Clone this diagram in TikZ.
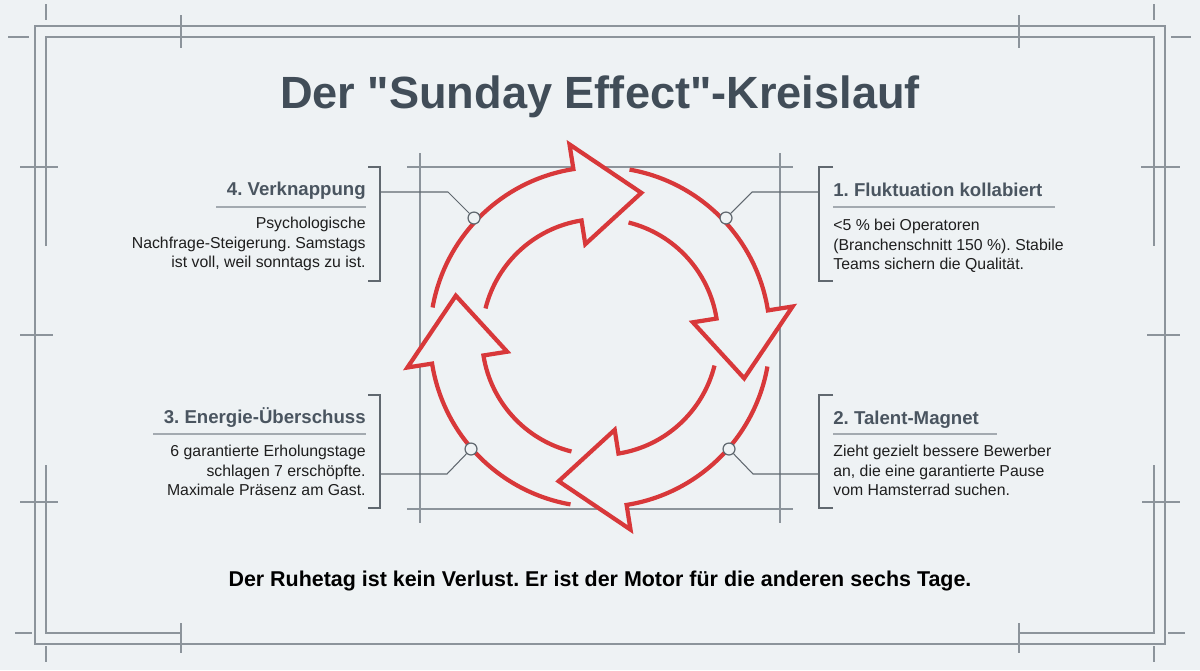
\documentclass[tikz,border=0pt]{standalone}
\usepackage{fontspec}
\setmainfont{Liberation Sans}
\newfontfamily\titlefont{Liberation Sans}
\usepackage{tikz}
\frenchspacing
\definecolor{paper}{HTML}{EEF2F4}
\definecolor{framegray}{HTML}{8C949B}
\definecolor{linegray}{HTML}{60686F}
\definecolor{rulegray}{HTML}{A3AAB0}
\definecolor{headgray}{HTML}{4A5560}
\definecolor{titlegray}{HTML}{414D58}
\definecolor{cyclered}{HTML}{D8383A}
\definecolor{bodyblack}{HTML}{1E1E1E}

\begin{document}
\begin{tikzpicture}[x=0.02cm,y=-0.02cm,inner sep=0pt,
  frame/.style={draw=framegray,line width=0.8pt},
  grid/.style={draw=framegray,line width=0.6pt},
  cyc/.style={draw=cyclered,line width=2.4pt,line join=miter},
  headfill/.style={fill=paper},
  bracket/.style={draw=linegray,line width=0.8pt},
  conn/.style={draw=linegray,line width=0.6pt},
  rule/.style={draw=rulegray,line width=0.8pt},
  dot/.style={circle,draw=linegray,fill=paper,line width=0.7pt,minimum size=6.8pt},
  headtext/.style={text=headgray,font=\bfseries\fontsize{10.6}{13}\selectfont},
  bodytext/.style={text=bodyblack,font=\fontsize{9}{11}\selectfont}]
%Background
\fill [paper] (0,0) rectangle (1200,670);
%Frame
\draw [frame] (35,26) rectangle (1165,644);
\draw [frame] (46,246) -- (46,37) -- (1154,37) -- (1154,246);
\draw [frame] (46,465) -- (46,633) -- (181,633);
\draw [frame] (1154,465) -- (1154,633) -- (1019,633);
%Frame Ticks
\draw [frame] (46,4) -- (46,20);
\draw [frame] (8,37) -- (29,37);
\draw [frame] (181,15) -- (181,48);
\draw [frame] (1019,15) -- (1019,48);
\draw [frame] (1154,4) -- (1154,20);
\draw [frame] (1171,37) -- (1191,37);
\draw [frame] (20,167) -- (58,167);
\draw [frame] (20,335) -- (53,335);
\draw [frame] (20,502) -- (58,502);
\draw [frame] (1141,167) -- (1180,167);
\draw [frame] (1147,335) -- (1180,335);
\draw [frame] (1142,502) -- (1180,502);
\draw [frame] (15,633) -- (32,633);
\draw [frame] (46,646) -- (46,662);
\draw [frame] (181,623) -- (181,653);
\draw [frame] (1019,623) -- (1019,653);
\draw [frame] (1168,633) -- (1185,633);
\draw [frame] (1154,646) -- (1154,662);
%Grid round the cycle
\draw [grid] (420,153) -- (420,523);
\draw [grid] (780,153) -- (780,523);
\draw [grid] (407,167) -- (793,167);
\draw [grid] (407,509) -- (793,509);
%Title
\node at (600,108) [anchor=base,text=titlegray,font=\titlefont\bfseries\fontsize{25.7}{30}\selectfont] (Title) {Der "Sunday Effect"-Kreislauf};
%Cycle Arrows
\begin{scope}[shift={(600,337)},yscale=-1]
\fill [headfill] (99:195) -- (74:150) -- (99:94) -- cycle;
\fill [headfill] (9:195) -- (-16:150) -- (9:94) -- cycle;
\fill [headfill] (-81:195) -- (-106:150) -- (-81:94) -- cycle;
\fill [headfill] (189:195) -- (164:150) -- (189:94) -- cycle;
\draw [cyc] (170:170) arc [start angle=170, end angle=99, radius=170] -- (99:195) -- (74:150) -- (99:94) -- (99:118) arc [start angle=99, end angle=166, radius=118];
\draw [cyc] (80:170) arc [start angle=80, end angle=9, radius=170] -- (9:195) -- (-16:150) -- (9:94) -- (9:118) arc [start angle=9, end angle=76, radius=118];
\draw [cyc] (-10:170) arc [start angle=-10, end angle=-81, radius=170] -- (-81:195) -- (-106:150) -- (-81:94) -- (-81:118) arc [start angle=-81, end angle=-14, radius=118];
\draw [cyc] (260:170) arc [start angle=260, end angle=189, radius=170] -- (189:195) -- (164:150) -- (189:94) -- (189:118) arc [start angle=189, end angle=256, radius=118];
\end{scope}
%Node Coordinates
\node at (474,218) [dot] (Dot4) {};
\node at (726,218) [dot] (Dot1) {};
\node at (471,449) [dot] (Dot3) {};
\node at (729,449) [dot] (Dot2) {};
\coordinate (Tab4) at (380,192);
\coordinate (Bend4) at (448,192);
\coordinate (Tab1) at (819,192);
\coordinate (Bend1) at (752,192);
\coordinate (Tab3) at (380,474);
\coordinate (Bend3) at (447,474);
\coordinate (Tab2) at (819,474);
\coordinate (Bend2) at (753,474);
%Brackets
\draw [bracket] (368,167) -- (380,167) -- (380,281) -- (368,281);
\draw [bracket] (833,167) -- (819,167) -- (819,281) -- (833,281);
\draw [bracket] (368,395) -- (380,395) -- (380,508) -- (368,508);
\draw [bracket] (833,395) -- (819,395) -- (819,508) -- (833,508);
%Connections
\draw [conn] (Tab4) -- (Bend4) -- (Dot4);
\draw [conn] (Tab1) -- (Bend1) -- (Dot1);
\draw [conn] (Tab3) -- (Bend3) -- (Dot3);
\draw [conn] (Tab2) -- (Bend2) -- (Dot2);
%Step Labels
\node at (366,195) [headtext,anchor=base east] (Head4) {4. Verknappung};
\node at (833,196) [headtext,anchor=base west] (Head1) {1. Fluktuation kollabiert};
\node at (366,423) [headtext,anchor=base east] (Head3) {3. Energie-Überschuss};
\node at (833,424) [headtext,anchor=base west] (Head2) {2. Talent-Magnet};
\draw [rule] (216,207) -- (366,207);
\draw [rule] (833,207) -- (1055,207);
\draw [rule] (153,434) -- (366,434);
\draw [rule] (833,434) -- (997,434);
\node at (366,217) [bodytext,align=right,anchor=north east] (Body4) {Psychologische\\Nachfrage-Steigerung. Samstags\\ist voll, weil sonntags zu ist.};
\node at (833,219) [bodytext,align=left,anchor=north west] (Body1) {<5 \% bei Operatoren\\(Branchenschnitt 150 \%). Stabile\\Teams sichern die Qualität.};
\node at (366,445) [bodytext,align=right,anchor=north east] (Body3) {6 garantierte Erholungstage\\schlagen 7 erschöpfte.\\Maximale Präsenz am Gast.};
\node at (833,445) [bodytext,align=left,anchor=north west] (Body2) {Zieht gezielt bessere Bewerber\\an, die eine garantierte Pause\\vom Hamsterrad suchen.};
%Bottom Line
\node at (600,586) [anchor=base,text=black,font=\bfseries\fontsize{12.2}{15}\selectfont] (Motto) {Der Ruhetag ist kein Verlust. Er ist der Motor für die anderen sechs Tage.};
\end{tikzpicture}
\end{document}
